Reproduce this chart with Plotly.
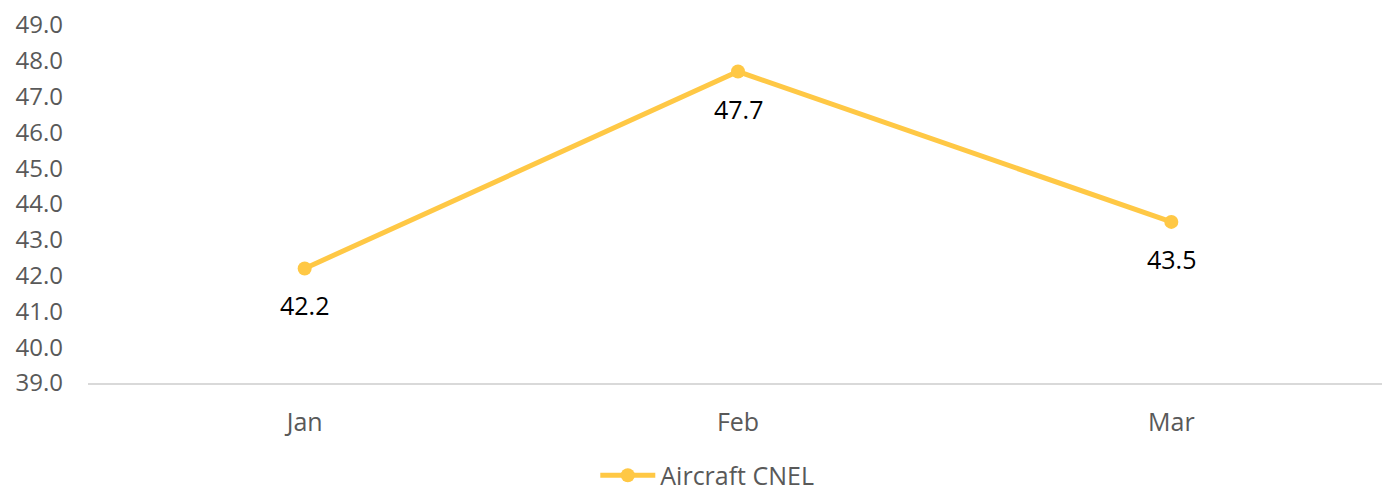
import plotly.graph_objects as go

months = ["Jan", "Feb", "Mar"]
cnel = [42.2, 47.7, 43.5]
series_name = "Aircraft CNEL"
y_ticks = [39.0, 40.0, 41.0, 42.0, 43.0, 44.0, 45.0, 46.0, 47.0, 48.0, 49.0]

color = "#FFC845"
font_family = "Open Sans, Liberation Sans, sans-serif"

fig = go.Figure()
fig.add_trace(go.Scatter(
    x=months, y=cnel, name=series_name, mode="lines+markers",
    line=dict(color=color, width=5),
    marker=dict(color=color, size=14),
))

for m, v in zip(months, cnel):
    fig.add_annotation(x=m, y=v, text=f"{v:.1f}", showarrow=False,
                       yshift=-37, font=dict(size=25, color="#000000", family=font_family))

fig.update_layout(
    width=1382, height=485,
    margin=dict(l=80, r=2, t=17, b=110, autoexpand=False),
    paper_bgcolor="white", plot_bgcolor="white",
    font=dict(family=font_family, size=25, color="#595959"),
    showlegend=True,
    legend=dict(orientation="h", xref="container", x=0.506, xanchor="center",
                yref="container", y=0.036, yanchor="middle",
                font=dict(size=25, color="#595959"), itemwidth=55),
    xaxis=dict(range=[-0.5, 2.5], showgrid=False, showline=True, linecolor="#D9D9D9", linewidth=1.5,
               ticks="", ticklabelstandoff=16, automargin=False, ticklabeloverflow="allow",
               tickfont=dict(size=25, color="#595959")),
    yaxis=dict(range=[39, 49], tickvals=y_ticks, ticktext=[f"{t:.1f}" for t in y_ticks],
               showgrid=False, zeroline=False, showline=False, ticks="", automargin=False,
               ticklabeloverflow="allow",
               ticklabelstandoff=24, tickfont=dict(size=24, color="#595959")),
)

fig.write_html("out.html")
